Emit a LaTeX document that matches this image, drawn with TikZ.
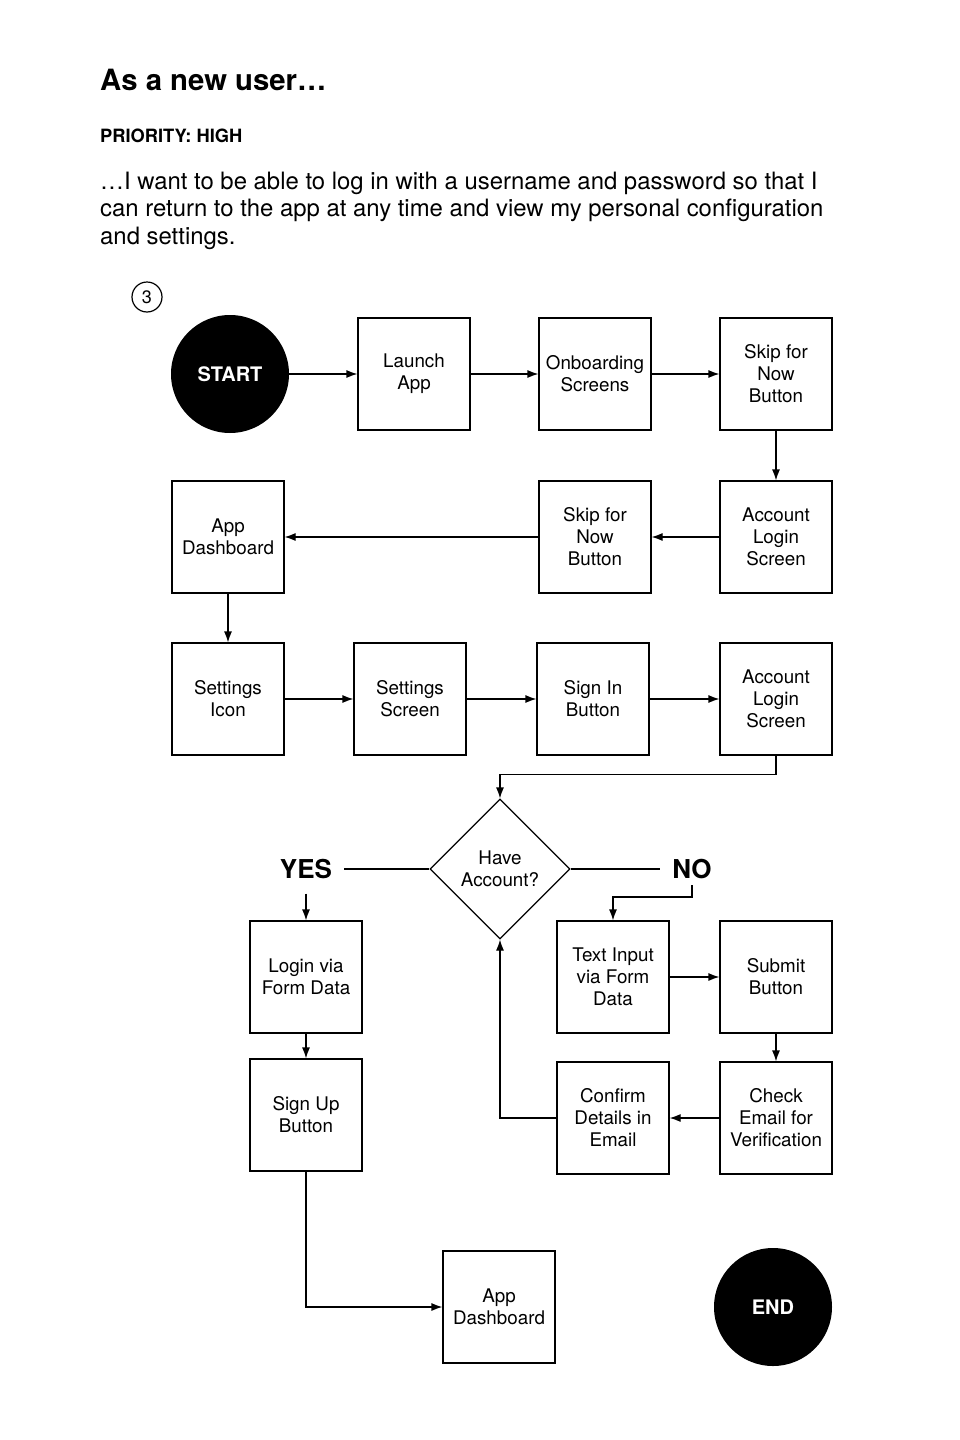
\documentclass[tikz,border=0pt]{standalone}
\usepackage{fontspec}
\setmainfont{TeX Gyre Heros}
\usetikzlibrary{shapes.geometric,arrows.meta}
\begin{document}
\begin{tikzpicture}[x=1pt,y=-1pt,
  box/.style={draw, line width=1.2pt, minimum width=112pt, minimum height=112pt, inner sep=2pt, align=center, font=\fontsize{18.8}{22}\selectfont},
  term/.style={circle, fill=black, minimum size=118pt, inner sep=0pt, text=white, font=\fontsize{20}{24}\selectfont\bfseries},
  arr/.style={line width=1.2pt, -{Latex[length=11pt,width=8pt]}},
  ln/.style={line width=1.2pt},
  lbl/.style={font=\fontsize{26}{30}\selectfont\bfseries, inner xsep=12pt}]
\useasboundingbox (0,0) rectangle (960,1440);
\fill[white] (0,0) rectangle (960,1440);

% header texts
\node[anchor=base west, inner sep=0pt, font=\fontsize{29.3}{34}\selectfont\bfseries] (title) at (100,90) {As a new user…};
\node[anchor=base west, inner sep=0pt, font=\fontsize{18.3}{22}\selectfont\bfseries] (prio) at (100,142) {PRIORITY: HIGH};
\node[anchor=base west, inner sep=0pt, align=left, font=\fontsize{23.9}{27.5}\selectfont] (story) at (100,244) {…I want to be able to log in with a username and password so that I\\can return to the app at any time and view my personal configuration\\and settings.};
\node[circle, draw, line width=1.2pt, minimum size=30pt, inner sep=0pt, font=\fontsize{18}{20}\selectfont] (num) at (147,297) {3};

% row 1
\node[term] (start) at (230,374) {START};
\node[box] (launch) at (414,374) {Launch\\App};
\node[box] (onb) at (595,374) {Onboarding\\Screens};
\node[box] (skip1) at (776,374) {Skip for\\Now\\Button};
% row 2
\node[box] (dash1) at (228,537) {App\\Dashboard};
\node[box] (skip2) at (595,537) {Skip for\\Now\\Button};
\node[box] (acc1) at (776,537) {Account\\Login\\Screen};
% row 3
\node[box] (seti) at (228,699) {Settings\\Icon};
\node[box] (sets) at (410,699) {Settings\\Screen};
\node[box] (signin) at (593,699) {Sign In\\Button};
\node[box] (acc2) at (776,699) {Account\\Login\\Screen};
% decision
\node[diamond, draw, line width=1.2pt, aspect=1, minimum width=140pt, minimum height=140pt, inner sep=0pt, align=center, font=\fontsize{18.8}{22}\selectfont] (dia) at (500,869) {Have\\Account?};
\node[lbl, inner ysep=14.6pt] (yes) at (306,869) {YES};
\node[lbl, inner ysep=6pt] (no) at (692,869) {NO};
% lower part
\node[box] (login) at (306,977) {Login via\\Form Data};
\node[box] (signup) at (306,1115) {Sign Up\\Button};
\node[box] (textin) at (613,977) {Text Input\\via Form\\Data};
\node[box] (submit) at (776,977) {Submit\\Button};
\node[box] (check) at (776,1118) {Check\\Email for\\Verification};
\node[box] (confirm) at (613,1118) {Confirm\\Details in\\Email};
\node[box] (dash2) at (499,1307) {App\\Dashboard};
\node[term] (end) at (773,1307) {END};

% connectors
\draw[arr] (start) -- (launch);
\draw[arr] (launch) -- (onb);
\draw[arr] (onb) -- (skip1);
\draw[arr] (skip1) -- (acc1);
\draw[arr] (acc1) -- (skip2);
\draw[arr] (skip2) -- (dash1);
\draw[arr] (dash1) -- (seti);
\draw[arr] (seti) -- (sets);
\draw[arr] (sets) -- (signin);
\draw[arr] (signin) -- (acc2);
\draw[arr] (acc2.south) -- ++(0,19) -| (dia.north);
\draw[ln] (yes.east) -- (dia.west);
\draw[ln] (dia.east) -- (no.west);
\draw[arr] (yes.south) -- (login.north);
\draw[arr] (login) -- (signup);
\draw[arr] (no.south) -- ++(0,12) -| (textin.north);
\draw[arr] (textin) -- (submit);
\draw[arr] (submit) -- (check);
\draw[arr] (check) -- (confirm);
\draw[arr] (confirm.west) -| (dia.south);
\draw[arr] (signup.south) |- (dash2.west);
\end{tikzpicture}
\end{document}
